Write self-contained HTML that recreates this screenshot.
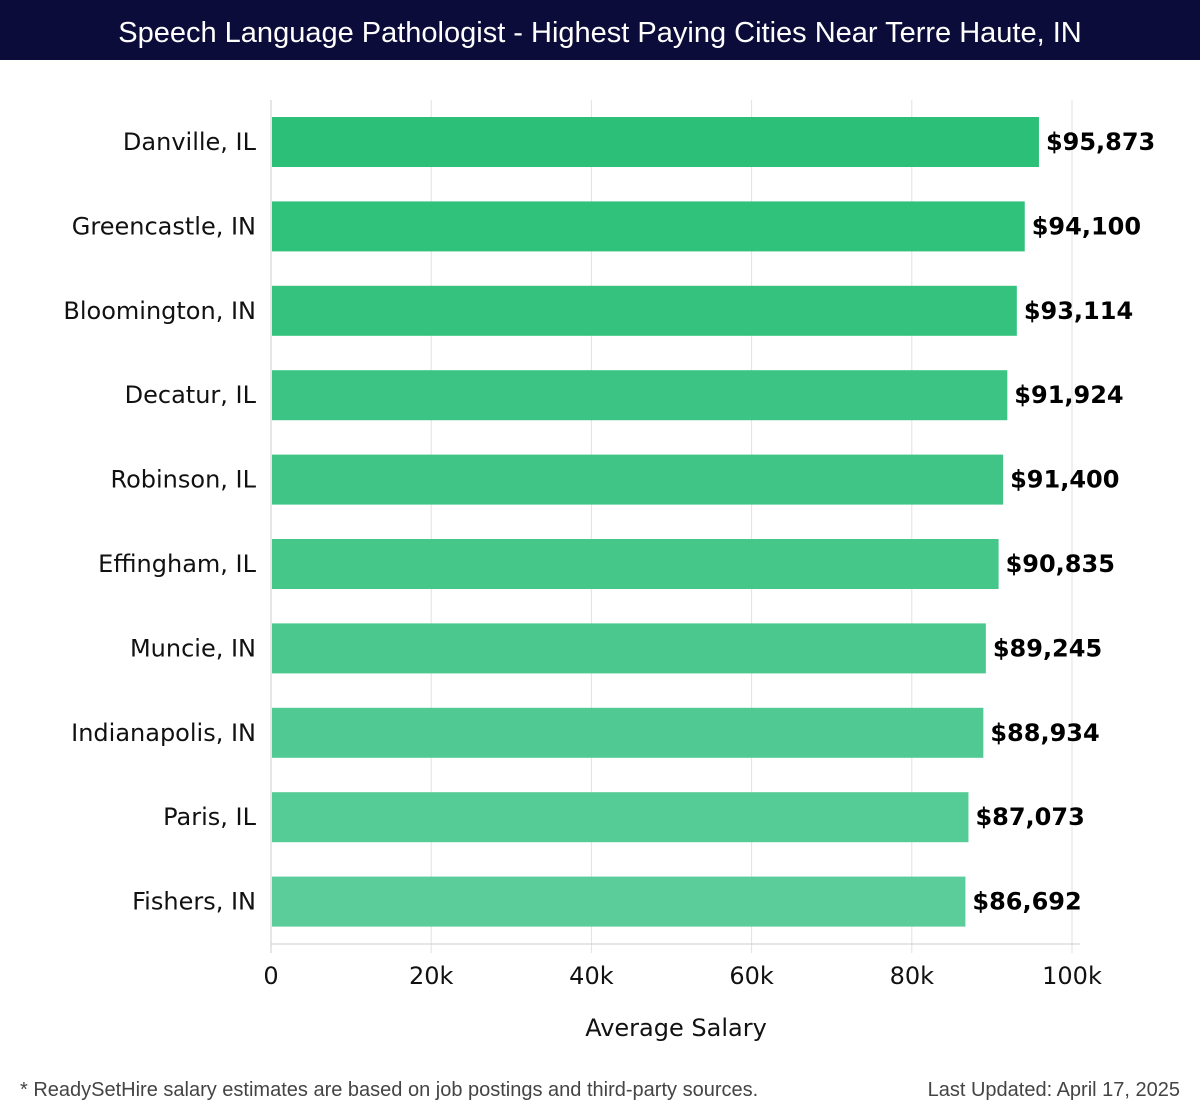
<!DOCTYPE html>
<html><head><meta charset="utf-8"><style>
body{margin:0;width:1200px;height:1120px;background:#fff;overflow:hidden;font-family:"DejaVu Sans","Liberation Sans",sans-serif}
#title{position:absolute;left:0;top:0;width:1200px;height:60px;background:#0c0c3a;color:#fff;font:29px "Liberation Sans",sans-serif;text-align:center;line-height:66px}
.foot{position:absolute;top:1079px;font:20px "Liberation Sans",sans-serif;color:#444}
</style></head><body>
<div id="title">Speech Language Pathologist - Highest Paying Cities Near Terre Haute, IN</div>
<svg id="chart" width="1200" height="1120" style="position:absolute;left:0;top:0"></svg>
<div class="foot" style="left:20px">* ReadySetHire salary estimates are based on job postings and third-party sources.</div>
<div class="foot" style="right:20px">Last Updated: April 17, 2025</div>
<script>
const categories=["Danville, IL","Greencastle, IN","Bloomington, IN","Decatur, IL","Robinson, IL","Effingham, IL","Muncie, IN","Indianapolis, IN","Paris, IL","Fishers, IN"];
const salaries=[95873,94100,93114,91924,91400,90835,89245,88934,87073,86692];
const valueLabels=["$95,873","$94,100","$93,114","$91,924","$91,400","$90,835","$89,245","$88,934","$87,073","$86,692"];
const ticks=[0,20000,40000,60000,80000,100000];
const tickLabels=["0","20k","40k","60k","80k","100k"];
const NS="http://www.w3.org/2000/svg",svg=document.getElementById("chart");
const x=v=>271+v/100000*801;
const step=84.4,y=i=>117+i*step,bh=50;
function mk(t,a,p){const e=document.createElementNS(NS,t);for(const k in a)e.setAttribute(k,a[k]);(p||svg).appendChild(e);return e;}
ticks.forEach((t,i)=>{
 const g=mk("line",{x1:x(t),x2:x(t),y1:100,y2:953,stroke:i==0?"#ccc":"#e2e2e2","stroke-width":1});
 
 
 const tl=mk("text",{x:x(t),y:984,"text-anchor":"middle","font-size":24,fill:"#111"});
 tl.textContent=tickLabels[i];
 
 
});
const ax=mk("line",{x1:271,x2:1080,y1:944,y2:944,stroke:"#ccc"});


categories.forEach((c,i)=>{
 const f=i/(categories.length-1);
 const r=Math.round(0x2b+f*(0x5a-0x2b)),gg=Math.round(0xbf+f*(0xcd-0xbf)),b=Math.round(0x77+f*(0x9a-0x77));
 const b1=mk("rect",{x:272,y:y(i),width:x(salaries[i])-272,height:bh,fill:`rgb(${r},${gg},${b})`});
 
 
 const lab=mk("text",{x:256,y:y(i)+bh/2+8,"text-anchor":"end","font-size":24,fill:"#111"});
 lab.textContent=c;
 
 
 const vl=mk("text",{x:x(salaries[i])+7,y:y(i)+bh/2+8,"font-size":24,"font-weight":"bold",fill:"#000"});
 vl.textContent=valueLabels[i];
 
 
});
const at=mk("text",{x:676,y:1036,"text-anchor":"middle","font-size":24,fill:"#111"});
at.textContent="Average Salary";


</script>
</body></html>
